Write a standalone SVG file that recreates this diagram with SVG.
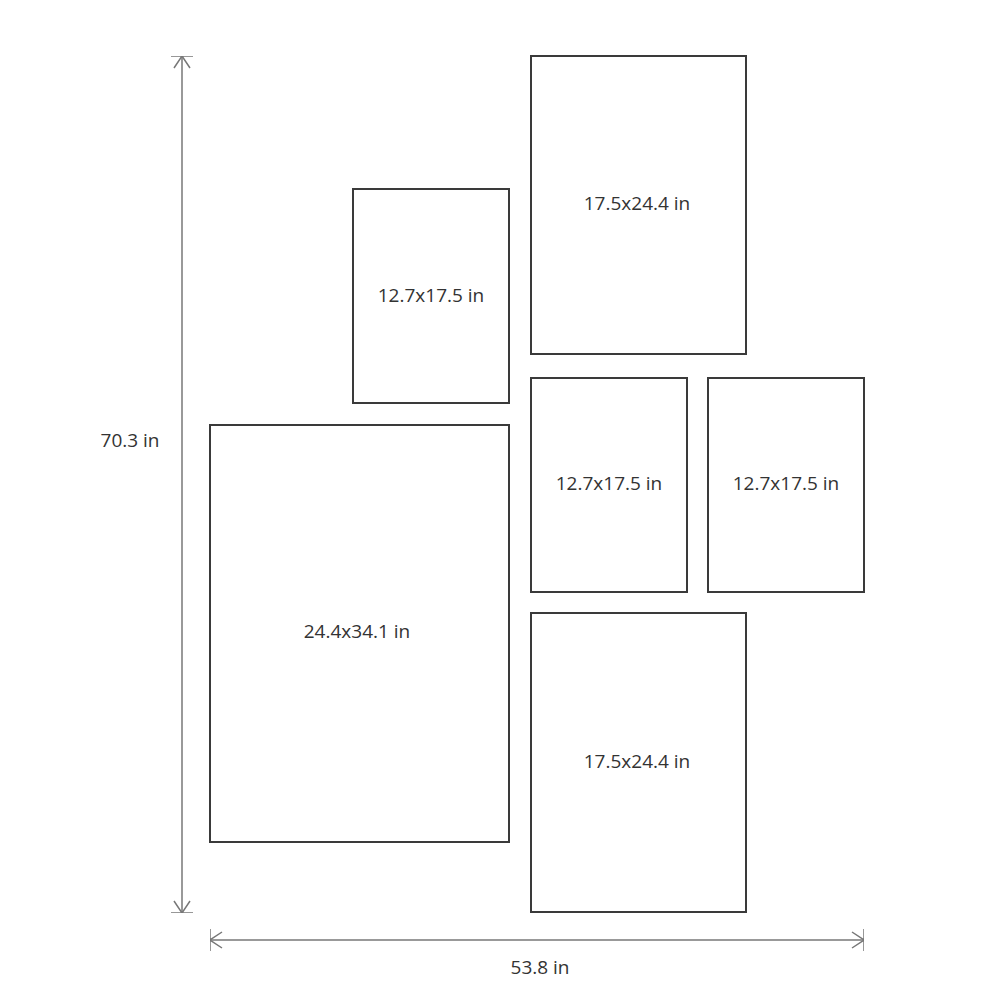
<svg xmlns="http://www.w3.org/2000/svg" width="1000" height="1000" viewBox="0 0 1000 1000">
<style>
.frame{fill:#fff;stroke:#3a3a3a;stroke-width:2}
.lbl{font-family:"Open Sans","DejaVu Sans",sans-serif;font-size:19px;fill:#333;text-anchor:middle;dominant-baseline:central}
.dim{stroke:#777;stroke-width:1.5;fill:none}
</style>
<defs>
<marker id="arr" viewBox="0 0 20 22" refX="20" refY="11" markerWidth="20" markerHeight="22" markerUnits="userSpaceOnUse" orient="auto">
<path d="M8,3 L20,11 L8,19 M20,0 L20,22" stroke="#777" stroke-width="1.5" fill="none"/>
</marker>
</defs>
<rect width="1000" height="1000" fill="#fff"/>
<g id="connectors">
<line class="dim" x1="182" y1="484" x2="182" y2="56" marker-end="url(#arr)"/>
<line class="dim" x1="182" y1="484" x2="182" y2="913" marker-end="url(#arr)"/>
<line class="dim" x1="537" y1="940" x2="210" y2="940" marker-end="url(#arr)"/>
<line class="dim" x1="537" y1="940" x2="864" y2="940" marker-end="url(#arr)"/>
</g>
<g id="dim-height"><text class="lbl" x="130" y="440">70.3 in</text></g>
<g id="dim-width"><text class="lbl" x="540" y="967">53.8 in</text></g>
<g id="frame-a"><rect class="frame" x="353" y="189" width="156" height="214"/><text class="lbl" x="431" y="295">12.7x17.5 in</text></g>
<g id="frame-b"><rect class="frame" x="531" y="56" width="215" height="298"/><text class="lbl" x="637" y="203">17.5x24.4 in</text></g>
<g id="frame-c"><rect class="frame" x="531" y="378" width="156" height="214"/><text class="lbl" x="609" y="483">12.7x17.5 in</text></g>
<g id="frame-d"><rect class="frame" x="708" y="378" width="156" height="214"/><text class="lbl" x="786" y="483">12.7x17.5 in</text></g>
<g id="frame-e"><rect class="frame" x="210" y="425" width="299" height="417"/><text class="lbl" x="357" y="631">24.4x34.1 in</text></g>
<g id="frame-f"><rect class="frame" x="531" y="613" width="215" height="299"/><text class="lbl" x="637" y="761">17.5x24.4 in</text></g>
</svg>
